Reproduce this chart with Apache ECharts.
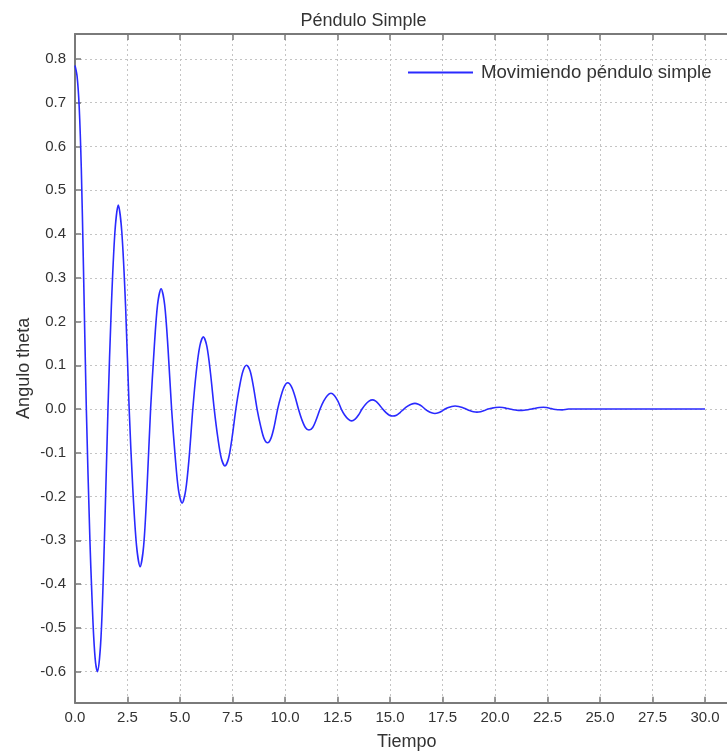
<!DOCTYPE html>
<html>
<head>
<meta charset="utf-8">
<script src="https://cdn.jsdelivr.net/npm/echarts@6/dist/echarts.min.js"></script>
<style>
html,body{margin:0;padding:0;background:#fff;}
#chart{width:727px;height:751px;}
</style>
</head>
<body>
<div id="chart"></div>
<script>
// Chart data
const chartTitle = 'Péndulo Simple';
const seriesName = 'Movimiendo péndulo simple';
const xAxisName = 'Tiempo';
const yAxisName = 'Angulo theta';

const time = [
  0, 0.1, 0.2, 0.3, 0.4, 0.54, 0.71, 0.8, 0.89, 0.98, 1.07,
  1.24, 1.4, 1.57, 1.73, 1.9, 2.06,
  2.23, 2.41, 2.58, 2.75, 2.93, 3.1,
  3.27, 3.43, 3.6, 3.77, 3.93, 4.1,
  4.27, 4.43, 4.6, 4.77, 4.93, 5.1,
  5.27, 5.44, 5.61, 5.77, 5.94, 6.11,
  6.28, 6.45, 6.63, 6.8, 6.97, 7.14,
  7.31, 7.48, 7.66, 7.83, 8.0, 8.17,
  8.34, 8.5, 8.67, 8.84, 9.0, 9.17,
  9.33, 9.49, 9.65, 9.81, 9.97, 10.13,
  10.3, 10.47, 10.64, 10.8, 10.97, 11.14,
  11.32, 11.49, 11.67, 11.84, 12.02, 12.19,
  12.35, 12.52, 12.68, 12.84, 13.01, 13.17,
  13.34, 13.5, 13.67, 13.83, 14.0, 14.16,
  14.32, 14.48, 14.65, 14.81, 14.97, 15.13,
  15.31, 15.48, 15.66, 15.84, 16.01, 16.19,
  16.35, 16.51, 16.67, 16.82, 16.98, 17.14,
  17.3, 17.46, 17.62, 17.78, 17.94, 18.1,
  18.27, 18.45, 18.62, 18.79, 18.97, 19.14,
  19.32, 19.49, 19.67, 19.85, 20.02, 20.2,
  20.37, 20.53, 20.7, 20.87, 21.03, 21.2,
  21.38, 21.57, 21.75, 21.93, 22.12, 22.3,
  22.45, 22.6, 22.75, 22.9, 23.05, 23.2,
  23.5, 24.0, 30.0
];
const theta = [
  0.785, 0.76, 0.69, 0.55, 0.33, 0.0, -0.30, -0.42, -0.52, -0.58, -0.60,
  -0.52, -0.30, 0.0, 0.233, 0.404, 0.466,
  0.404, 0.233, 0.0, -0.18, -0.312, -0.36,
  -0.312, -0.18, 0.0, 0.138, 0.238, 0.275,
  0.238, 0.138, 0.0, -0.108, -0.186, -0.215,
  -0.186, -0.108, 0.0, 0.083, 0.143, 0.165,
  0.143, 0.083, 0.0, -0.065, -0.113, -0.13,
  -0.113, -0.065, 0.0, 0.05, 0.087, 0.10,
  0.087, 0.05, 0.0, -0.039, -0.067, -0.077,
  -0.067, -0.039, 0.0, 0.03, 0.052, 0.06,
  0.052, 0.03, 0.0, -0.024, -0.042, -0.048,
  -0.042, -0.024, 0.0, 0.018, 0.031, 0.036,
  0.031, 0.018, 0.0, -0.0135, -0.023, -0.027,
  -0.023, -0.0135, 0.0, 0.0105, 0.018, 0.021,
  0.018, 0.0105, 0.0, -0.008, -0.014, -0.016,
  -0.014, -0.008, 0.0, 0.0065, 0.011, 0.013,
  0.011, 0.0065, 0.0, -0.005, -0.0087, -0.010,
  -0.0087, -0.005, 0.0, 0.0035, 0.006, 0.007,
  0.006, 0.0035, 0.0, -0.0035, -0.006, -0.007,
  -0.006, -0.0035, 0.0, 0.002, 0.0035, 0.004,
  0.0035, 0.002, 0.0, -0.0015, -0.0026, -0.003,
  -0.0026, -0.0015, 0.0, 0.002, 0.0035, 0.004,
  0.0035, 0.002, 0.0, -0.001, -0.0017, -0.002,
  0.0, 0.0, 0.0
];

const xMin = 0, xMax = 31.6, xStep = 2.5;
const yMin = -0.671, yMax = 0.857, yStep = 0.1;

const FONT = "'Liberation Sans', Arial, sans-serif";
const AXIS_COLOR = '#7a7a7a';
const GRID_COLOR = '#c4c4c4';
const TEXT_COLOR = '#333333';

const data = time.map((t, i) => [t, theta[i]]);

const fmt1 = v => {
  const r = Math.round(v * 10) / 10;
  return (Math.abs(r) < 1e-9 ? 0 : r).toFixed(1);
};

const chart = echarts.init(document.getElementById('chart'), null, {renderer: 'canvas'});
chart.setOption({
  animation: false,
  backgroundColor: '#ffffff',
  title: {
    text: chartTitle,
    left: 'center',
    top: 7,
    textStyle: {fontFamily: FONT, fontSize: 18, fontWeight: 'normal', color: TEXT_COLOR}
  },
  legend: {
    data: [seriesName],
    left: 408,
    top: 63,
    padding: 0,
    icon: 'rect',
    itemWidth: 65,
    itemHeight: 2,
    textStyle: {fontFamily: FONT, fontSize: 18.6, color: TEXT_COLOR, padding: [0, 0, 0, 3]}
  },
  grid: {left: 75, top: 34, width: 663.6, height: 668.7, containLabel: false, outerBoundsMode: 'none', show: false},
  xAxis: [{
    type: 'value',
    min: xMin, max: xMax, interval: xStep,
    name: xAxisName,
    nameLocation: 'middle',
    nameGap: 30,
    nameMoveOverlap: false,
    nameTextStyle: {fontFamily: FONT, fontSize: 18, color: TEXT_COLOR},
    axisLine: {show: true, onZero: false, lineStyle: {color: AXIS_COLOR, width: 2}},
    axisTick: {show: true, inside: true, length: 6, lineStyle: {color: AXIS_COLOR, width: 1.5}},
    axisLabel: {fontFamily: FONT, fontSize: 15, color: TEXT_COLOR, margin: 8, showMaxLabel: false, formatter: fmt1},
    splitLine: {show: true, lineStyle: {color: GRID_COLOR, width: 1, type: [2, 3]}}
  }, {
    type: 'value',
    position: 'top',
    min: xMin, max: xMax, interval: xStep,
    axisLine: {show: true, onZero: false, lineStyle: {color: AXIS_COLOR, width: 2}},
    axisTick: {show: true, inside: true, length: 6, lineStyle: {color: AXIS_COLOR, width: 1.5}},
    axisLabel: {show: false},
    splitLine: {show: false}
  }],
  yAxis: [{
    type: 'value',
    min: yMin, max: yMax,
    splitNumber: 15,
    minInterval: yStep, maxInterval: yStep,
    name: yAxisName,
    nameLocation: 'middle',
    nameGap: 42,
    nameMoveOverlap: false,
    nameTextStyle: {fontFamily: FONT, fontSize: 18, color: TEXT_COLOR},
    axisLine: {show: true, onZero: false, lineStyle: {color: AXIS_COLOR, width: 2}},
    axisTick: {show: true, inside: true, length: 6, lineStyle: {color: AXIS_COLOR, width: 1.5}},
    axisLabel: {fontFamily: FONT, fontSize: 15, color: TEXT_COLOR, margin: 9, showMinLabel: false, showMaxLabel: false, formatter: fmt1},
    splitLine: {show: true, lineStyle: {color: GRID_COLOR, width: 1, type: [2, 3]}}
  }],
  series: [{
    name: seriesName,
    type: 'line',
    data: data,
    xAxisIndex: 0,
    yAxisIndex: 0,
    showSymbol: false,
    symbol: 'none',
    smooth: 0.3,
    lineStyle: {color: '#2a2aff', width: 1.6},
    itemStyle: {color: '#2a2aff'}
  }]
});
</script>
</body>
</html>
